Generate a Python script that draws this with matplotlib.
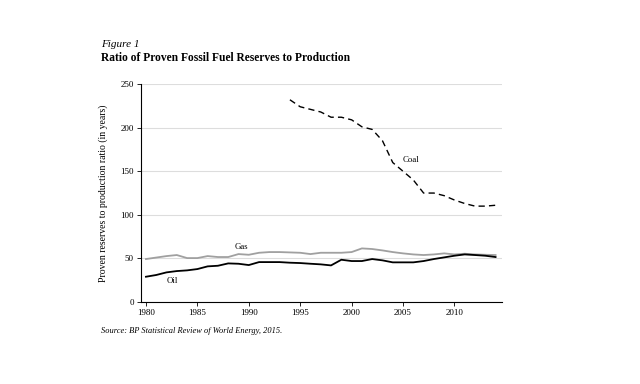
import matplotlib
matplotlib.use("Agg")
import matplotlib.pyplot as plt
import numpy as np

years = np.arange(1980, 2015)

oil = [29, 31, 34, 35.5, 36.3, 37.8, 40.9, 41.6, 44.3, 43.9,
       42.4, 45.8, 45.8, 45.8, 45.1, 44.7, 43.9, 43.2, 42.0, 48.5,
       47.0, 47.0, 49.3, 47.8, 45.5, 45.5, 45.5, 47.0, 49.3, 51.2,
       53.1, 54.6, 53.9, 53.1, 51.6]

gas = [49.3, 51.0, 52.7, 53.9, 50.4, 50.4, 52.7, 51.6, 51.6, 55.0,
       54.2, 56.5, 57.3, 57.3, 56.9, 56.5, 55.0, 56.5, 56.5, 56.5,
       57.3, 61.5, 60.8, 59.2, 57.3, 55.8, 54.6, 53.9, 54.6, 55.8,
       54.6, 55.4, 54.6, 54.2, 53.9]

coal_years = np.arange(1994, 2015)
coal = [232, 224, 221, 218, 212, 212, 209, 201, 198, 185,
        160, 150, 140, 125, 125, 122, 117, 113, 110, 110, 111]

plt.rcParams["font.family"] = ["Liberation Serif", "DejaVu Serif"]

fig = plt.figure(figsize=(6.4, 3.84), dpi=100)
ax = fig.add_axes([0.220, 0.2135, 0.564, 0.5675])

ax.plot(years, gas, color="#a0a0a0", lw=1.3)
ax.plot(years, oil, color="black", lw=1.3)
ax.plot(coal_years, coal, color="black", lw=1.0, ls=(0, (4.5, 3)))

ax.text(1989.3, 63, "Gas", fontsize=6.3, ha="center", va="center")
ax.text(1982.6, 24, "Oil", fontsize=6.3, ha="center", va="center")
ax.text(2005.8, 163, "Coal", fontsize=6.3, ha="center", va="center")

ax.set_xlim(1979.5, 2014.6)
ax.set_ylim(0, 250)
ax.set_xticks(np.arange(1980, 2015, 5))
ax.set_yticks(np.arange(0, 251, 50))
ax.tick_params(labelsize=6.5, length=3, width=0.6, pad=2)
ax.yaxis.grid(True, color="#dddddd", lw=0.8)
ax.set_axisbelow(True)
for s in ["top", "right"]:
    ax.spines[s].set_visible(False)
for s in ["left", "bottom"]:
    ax.spines[s].set_linewidth(0.8)

ax.set_ylabel("Proven reserves to production ratio (in years)", fontsize=7, labelpad=9)

fig.text(0.158, 0.885, "Figure 1", fontsize=8, style="italic", va="center")
fig.text(0.158, 0.850, "Ratio of Proven Fossil Fuel Reserves to Production",
         fontsize=8.3, weight="bold", va="center")
fig.text(0.158, 0.138, "Source: BP Statistical Review of World Energy, 2015.",
         fontsize=6, style="italic", va="center")

fig.savefig("out.png", dpi=100)
